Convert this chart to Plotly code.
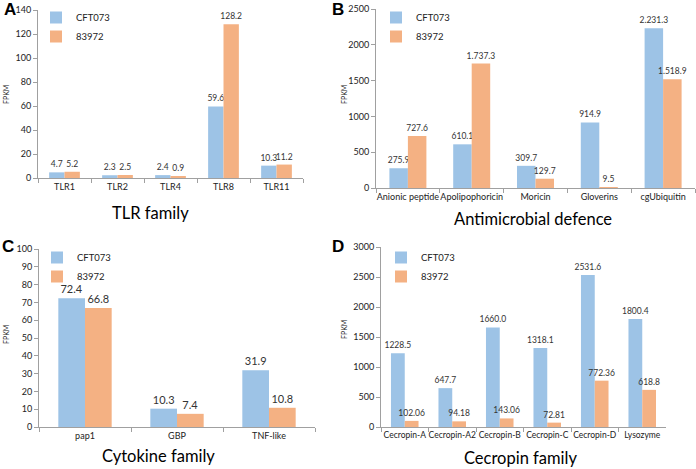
import plotly.graph_objects as go

# ---- data ----
tlr_cats = ["TLR1", "TLR2", "TLR4", "TLR8", "TLR11"]
tlr_cft = [4.7, 2.3, 2.4, 59.6, 10.3]
tlr_839 = [5.2, 2.5, 0.9, 128.2, 11.2]
tlr_cft_lbl = ["4.7", "2.3", "2.4", "59.6", "10.3"]
tlr_839_lbl = ["5.2", "2.5", "0.9", "128.2", "11.2"]

amp_cats = ["Anionic peptide", "Apolipophoricin", "Moricin", "Gloverins", "cgUbiquitin"]
amp_cft = [275.9, 610.1, 309.7, 914.9, 2231.3]
amp_839 = [727.6, 1737.3, 129.7, 9.5, 1518.9]
amp_cft_lbl = ["275.9", "610.1", "309.7", "914.9", "2.231.3"]
amp_839_lbl = ["727.6", "1.737.3", "129.7", "9.5", "1.518.9"]

cyt_cats = ["pap1", "GBP", "TNF-like"]
cyt_cft = [72.4, 10.3, 31.9]
cyt_839 = [66.8, 7.4, 10.8]
cyt_cft_lbl = ["72.4", "10.3", "31.9"]
cyt_839_lbl = ["66.8", "7.4", "10.8"]

cec_cats = ["Cecropin-A", "Cecropin-A2", "Cecropin-B", "Cecropin-C", "Cecropin-D", "Lysozyme"]
cec_cft = [1228.5, 647.7, 1660.0, 1318.1, 2531.6, 1800.4]
cec_839 = [102.06, 94.18, 143.06, 72.81, 772.36, 618.8]
cec_cft_lbl = ["1228.5", "647.7", "1660.0", "1318.1", "2531.6", "1800.4"]
cec_839_lbl = ["102.06", "94.18", "143.06", "72.81", "772.36", "618.8"]

series_names = ["CFT073", "83972"]

# ---- style ----
W, H = 696, 469
BLUE = "#9DC3E6"
ORANGE = "#F4B183"
AXC = "#A0A0A0"
FONT = "Lato, 'Liberation Sans', Arial, sans-serif"

def px_x(a, b):
    return [a / W, b / W]

def px_y(top, bottom):
    return [1 - bottom / H, 1 - top / H]

panels = [
    dict(cats=tlr_cats, a=tlr_cft, b=tlr_839, la=tlr_cft_lbl, lb=tlr_839_lbl,
         xd=px_x(38, 303), yd=px_y(10, 178), rng=[0, 140], dt=20, lblsize=8.5, tick=9,
         letter="A", lx=10, ly=10, title="TLR family", tx=150, ty=213,
         legx=36, legy=3, fpx=6, fpy=95),
    dict(cats=amp_cats, a=amp_cft, b=amp_839, la=amp_cft_lbl, lb=amp_839_lbl,
         xd=px_x(376, 695), yd=px_y(9, 188), rng=[0, 2500], dt=500, lblsize=8.5, tick=9,
         letter="B", lx=338, ly=10, title="Antimicrobial defence", tx=533, ty=219,
         legx=376, legy=3, fpx=344, fpy=95),
    dict(cats=cyt_cats, a=cyt_cft, b=cyt_839, la=cyt_cft_lbl, lb=cyt_839_lbl,
         xd=px_x(39, 315), yd=px_y(249, 427), rng=[0, 100], dt=10, lblsize=11, tick=9,
         letter="C", lx=8, ly=247, title="Cytokine family", tx=158, ty=456,
         legx=37, legy=243, fpx=6, fpy=335),
    dict(cats=cec_cats, a=cec_cft, b=cec_839, la=cec_cft_lbl, lb=cec_839_lbl,
         xd=px_x(381, 666), yd=px_y(247, 427), rng=[0, 3000], dt=500, lblsize=8.5, tick=8.5,
         letter="D", lx=338, ly=247, title="Cecropin family", tx=520, ty=458,
         legx=381, legy=243, fpx=344, fpy=330),
]

fig = go.Figure()
annotations = []
layout = {}

for i, p in enumerate(panels):
    n = "" if i == 0 else str(i + 1)
    xa, ya = "x" + n, "y" + n
    leg = "legend" + n
    for vals, lbls, col, name in [(p["a"], p["la"], BLUE, series_names[0]),
                                  (p["b"], p["lb"], ORANGE, series_names[1])]:
        fig.add_trace(go.Bar(
            x=p["cats"], y=vals, name=name, marker=dict(color=col, line=dict(width=0)),
            text=lbls, textposition="outside", cliponaxis=False, constraintext="none",
            textfont=dict(size=p["lblsize"], color="#333333", family=FONT),
            xaxis=xa, yaxis=ya, legend=leg,
        ))
    layout["xaxis" + n] = dict(
        domain=p["xd"], anchor=ya, type="category", showline=True, linecolor=AXC,
        linewidth=1, ticks="outside", tickson="boundaries", ticklen=4, tickcolor=AXC,
        tickangle=0, automargin=False,
        tickfont=dict(size=p["tick"], color="#222222", family=FONT), showgrid=False,
        zeroline=False, fixedrange=True,
    )
    layout["yaxis" + n] = dict(
        domain=p["yd"], anchor=xa, range=p["rng"], dtick=p["dt"], showline=True,
        linecolor=AXC, linewidth=1, ticks="outside", ticklen=4, tickcolor=AXC,
        tickformat="d", automargin=False,
        tickfont=dict(size=9, color="#222222", family=FONT), showgrid=False,
        zeroline=False,
    )
    layout[leg] = dict(
        x=p["legx"] / W, y=1 - p["legy"] / H, xanchor="left", yanchor="top",
        bgcolor="rgba(0,0,0,0)", font=dict(size=9.5, color="#222222", family=FONT),
        itemwidth=30, tracegroupgap=0,
    )
    annotations.append(dict(text="<b>" + p["letter"] + "</b>", x=p["lx"] / W, y=1 - p["ly"] / H,
                            xref="paper", yref="paper", showarrow=False,
                            font=dict(size=17, color="black", family="Liberation Sans, Arial"),
                            xanchor="center", yanchor="middle"))
    annotations.append(dict(text=p["title"], x=p["tx"] / W, y=1 - p["ty"] / H,
                            xref="paper", yref="paper", showarrow=False,
                            font=dict(size=16.5, color="black", family=FONT),
                            xanchor="center", yanchor="middle"))
    annotations.append(dict(text="FPKM", x=p["fpx"] / W, y=1 - p["fpy"] / H,
                            xref="paper", yref="paper", showarrow=False, textangle=-90,
                            font=dict(size=7, color="#222222", family=FONT),
                            xanchor="center", yanchor="middle"))

fig.update_layout(
    width=W, height=H, margin=dict(l=0, r=0, t=0, b=0, autoexpand=False),
    paper_bgcolor="white", plot_bgcolor="white",
    barmode="group", bargap=0.42, bargroupgap=0,
    showlegend=True, annotations=annotations,
    font=dict(family=FONT),
    **layout,
)

fig.write_html("out.html", config={"displayModeBar": False},
               post_script="document.body.style.margin='0';document.body.style.overflow='hidden';")
